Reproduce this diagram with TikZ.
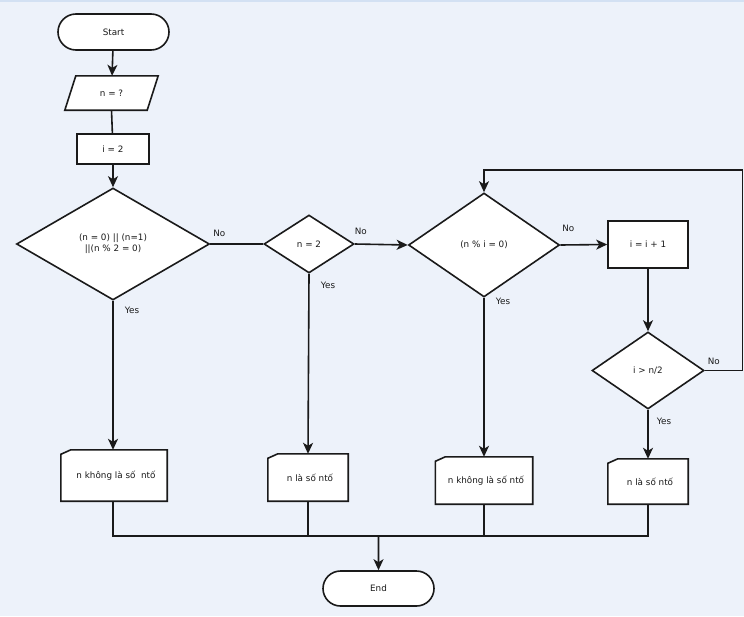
\documentclass[tikz,border=0pt]{standalone}
\usepackage{fontspec}
\setmainfont{DejaVu Sans}
\usetikzlibrary{shapes.geometric,shapes.misc,arrows.meta}
\definecolor{bgc}{HTML}{EDF2FA}
\definecolor{bgline}{HTML}{D3E1F3}
\definecolor{ink}{HTML}{1A1A1A}
\begin{document}
\begin{tikzpicture}[x=1pt,y=-1pt,
  every node/.style={font=\fontsize{8.8}{11}\selectfont, text=ink},
  base/.style={draw=ink, line width=1.6pt, fill=white, inner sep=0pt, align=center},
  term/.style={base, rounded rectangle},
  procbox/.style={base, rectangle},
  dec/.style={base, diamond},
  ghost/.style={rectangle, inner sep=0pt, align=center},
  conn/.style={draw=ink, line width=1.6pt},
  arr/.style={conn, -{Stealth[length=11pt,width=10pt,inset=3pt]}},
  lbl/.style={inner sep=0pt, font=\fontsize{8.8}{11}\selectfont}
]
\useasboundingbox (0,0) rectangle (744,616);
\fill[bgc] (0,0) rectangle (744,616);
\draw[bgline, line width=1.5pt] (0,0.75) -- (744,0.75);

% nodes
\node[term, minimum width=111pt, minimum height=36pt] (start) at (113.5,32) {Start};
\node[ghost, minimum width=82pt, minimum height=34pt] (inp) at (111.5,93) {};
\filldraw[conn, fill=white, line join=miter] ([xshift=5.5pt]inp.north west) -- ([xshift=5.5pt]inp.north east) -- ([xshift=-5.5pt]inp.south east) -- ([xshift=-5.5pt]inp.south west) -- cycle;
\node[ghost] at (inp) {n = ?};
\node[procbox, minimum width=72pt, minimum height=30pt] (i2) at (113,149) {i = 2};
\node[dec, minimum width=193pt, minimum height=112pt] (d1) at (113,244) {(n = 0) || (n=1)\\||(n \% 2 = 0)};
\node[dec, minimum width=90pt, minimum height=58pt] (d2) at (309,244) {n = 2};
\node[dec, minimum width=151pt, minimum height=104pt] (d3) at (484,245) {(n \% i = 0)};
\node[procbox, minimum width=80pt, minimum height=47pt] (inc) at (648,244.5) {i = i + 1};
\node[dec, minimum width=112pt, minimum height=77pt] (d4) at (648,370.5) {i > n/2};

% output cards
\newcommand{\cardshape}[1]{%
  \filldraw[conn, fill=white, line join=miter] ([yshift=-4.5pt]#1.north west) -- ([xshift=10pt]#1.north west) -- (#1.north east) -- (#1.south east) -- (#1.south west) -- cycle;}
\node[ghost, minimum width=106pt, minimum height=51pt] (o1) at (114,475.5) {};
\cardshape{o1}
\node[ghost] at ([xshift=2pt]o1.center) {n không là số\ \ ntố};
\node[ghost, minimum width=80pt, minimum height=47pt] (o2) at (308,477.5) {};
\cardshape{o2}
\node[ghost] at ([xshift=2pt]o2.center) {n là số ntố};
\node[ghost, minimum width=97pt, minimum height=47pt] (o3) at (484,480.5) {};
\cardshape{o3}
\node[ghost] at ([xshift=2pt]o3.center) {n không là số ntố};
\node[ghost, minimum width=80pt, minimum height=45pt] (o4) at (648,481.5) {};
\cardshape{o4}
\node[ghost] at ([xshift=2pt]o4.center) {n là số ntố};

\node[term, minimum width=111pt, minimum height=35pt] (end) at (378.5,588.5) {End};

\coordinate (loopR) at (742.5,170);
\coordinate (jn) at (378.5,536);

% connectors
\draw[arr] (start) -- (inp);
\draw[conn] (inp.south) -- (i2);
\draw[arr] (i2) -- (d1);
\draw[conn] (d1.east) -- node[lbl, at start, xshift=9pt, yshift=11pt] {No} (d2.west);
\draw[arr] (d2.east) -- node[lbl, at start, xshift=6pt, yshift=13pt] {No} (d3.west);
\draw[arr] (d3.east) -- node[lbl, at start, xshift=8pt, yshift=17pt] {No} (inc.west);
\draw[arr] (inc) -- (d4);
\draw[arr] (d4.east) -- node[lbl, at start, xshift=9pt, yshift=9.5pt] {No} (d4.east -| loopR) -- (loopR) -| (d3.north);
\draw[arr] (d1.south) -- node[lbl, at start, xshift=19pt, yshift=-10pt] {Yes} (d1.south |- o1.north);
\draw[arr] (d2.south) -- node[lbl, at start, xshift=19pt, yshift=-12pt] {Yes} (o2.north);
\draw[arr] (d3.south) -- node[lbl, at start, xshift=19pt, yshift=-4pt] {Yes} (o3.north);
\draw[arr] (d4.south) -- node[lbl, at start, xshift=16pt, yshift=-12pt] {Yes} (o4.north);
\draw[conn] (o1.south -| d1.south) |- (jn) -| (o4.south);
\draw[conn] (o2.south) -- (o2.south |- jn);
\draw[conn] (o3.south) -- (o3.south |- jn);
\draw[arr] (jn) -- (end);
\end{tikzpicture}
\end{document}
